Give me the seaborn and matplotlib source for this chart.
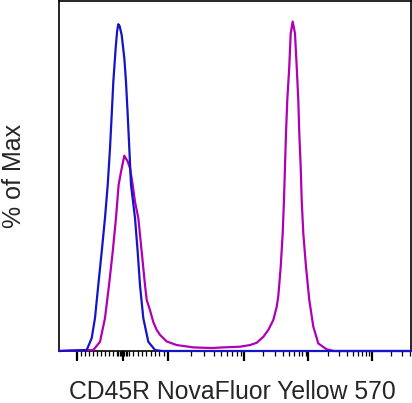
import numpy as np
import pandas as pd
import matplotlib
matplotlib.use("Agg")
import matplotlib.pyplot as plt
import seaborn as sns

# x values are display channels (0-1024, biexponential axis), y is % of max
blue_ch = [0, 80.6, 95.1, 104.7, 114.3, 124.2, 133.8, 141.7, 148.4, 153.3, 158.0,
           164.9, 169.0, 172.5, 176.5, 182.4, 190.0, 194.9, 199.9, 204.5, 209.5, 221.1, 228.9,
           235.6, 245.2, 259.8, 279.3, 300, 1024]
blue_pct = [0, 0.3, 3.9, 10.0, 20.0, 30.1, 40.4, 50.4, 61.6, 71.6, 81.7,
            92.0, 97.0, 99.2, 98.6, 95.9, 88.9, 81.7, 71.6, 61.6, 50.4, 40.4, 30.1,
            20.0, 10.0, 2.8, 0.3, 0, 0]

magenta_ch = [0, 99.8, 119.3, 133.8, 145.5, 156.2, 165.8, 173.4, 180.4, 190.0,
              199.9, 206.5, 214.4, 221.1, 230.7, 240.6, 250.2, 255.1, 264.7, 274.3,
              284.2, 293.8, 313.3, 342.4, 390.7, 444.2, 478.0, 526.5, 555.6, 575.1,
              594.3, 608.9, 623.4, 633.3, 638.0, 645.0, 650.7, 654.5, 657.4, 660.4,
              664.1, 669.9, 674.0, 679.8, 686.5, 691.5, 696.1, 699.0, 703.1, 706.0,
              710.7, 718.5, 728.1, 739.8, 754.3, 778.7, 800, 1024]
magenta_pct = [0, 0.3, 2.8, 10.0, 20.0, 30.1, 40.4, 50.4, 54.4, 59.3,
               57.5, 55.5, 50.4, 45.3, 40.4, 30.1, 20.0, 15.5, 12.4, 8.8,
               6.4, 4.9, 2.9, 1.8, 1.1, 0.9, 1.1, 1.3, 1.8, 2.5,
               4.3, 6.4, 9.4, 13.4, 16.7, 25.6, 35.7, 45.8, 55.9, 66.2,
               76.2, 86.3, 96.4, 100.0, 96.4, 86.3, 76.2, 66.2, 55.9, 45.8,
               35.7, 25.6, 15.5, 7.4, 2.3, 0.5, 0, 0]

# axis tick positions (channels): -10^3, 0, 10^3, 10^4, 10^5, 10^6
major_ticks = [51.5, 186.2, 317.1, 538.2, 725.8, 910.5]

df = pd.concat([
    pd.DataFrame({"ch": blue_ch, "pct": blue_pct, "sample": "isotype"}),
    pd.DataFrame({"ch": magenta_ch, "pct": magenta_pct, "sample": "CD45R"}),
])

sns.set_style("ticks")
plt.rcParams["font.family"] = ["Liberation Sans", "DejaVu Sans"]

fig = plt.figure(figsize=(4.12, 4.03), dpi=100)
ax = fig.add_axes([59 / 412, 52 / 403, 352 / 412, 350.5 / 403])

sns.lineplot(data=df, x="ch", y="pct", hue="sample", estimator=None, sort=False,
             palette={"isotype": "#1414C8", "CD45R": "#B000B4"},
             hue_order=["CD45R", "isotype"], linewidth=1.6, legend=False, ax=ax)
for ln in ax.lines:
    ln.set_clip_on(False)
    ln.set_zorder(3)

ax.set_xlim(0, 1024)
ax.set_ylim(0, 106.4)

# minor ticks: linear around zero, log pattern in each decade
minor = list(np.linspace(51.5, 168.7, 11)[1:-1]) + list(np.linspace(168.7, 203.6, 9))
minor += list(np.linspace(203.6, 317.1, 10)[1:-1])
decades = major_ticks[2:] + [major_ticks[-1] + (major_ticks[-1] - major_ticks[-2])]
for a, b in zip(decades[:-1], decades[1:]):
    minor += [a + (b - a) * np.log10(k) for k in range(2, 10)]
minor = [m for m in minor if m < 1024]

ax.set_xticks(major_ticks)
ax.set_xticks(minor, minor=True)
ax.set_xticklabels([])
ax.set_yticks([])
ax.tick_params(axis="x", which="major", direction="out", length=7.5, width=1.6, color="black")
ax.tick_params(axis="x", which="minor", direction="out", length=3.5, width=0.9, color="black")

for s in ax.spines.values():
    s.set_visible(True)
    s.set_color("black")
    s.set_linewidth(1.2)
    s.set_zorder(2)

ax.set_xlabel("CD45R NovaFluor Yellow 570", fontsize=17.8)
ax.set_ylabel("% of Max", fontsize=18)
ax.xaxis.set_label_coords(0.493, -0.084)
ax.yaxis.set_label_coords(-0.094, 0.5)

fig.savefig("out.png", dpi=100)
